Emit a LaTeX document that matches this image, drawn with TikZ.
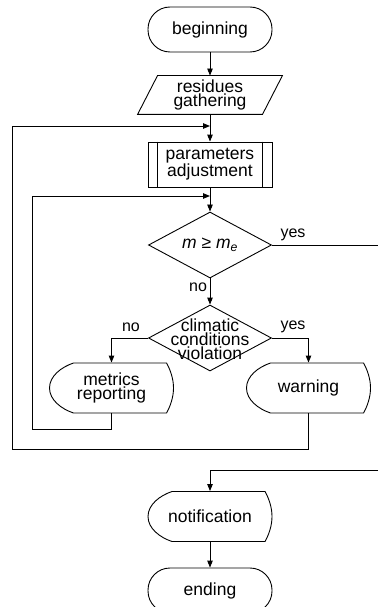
\documentclass[tikz,border=0pt]{standalone}
\usepackage{fontspec}
\setmainfont{Liberation Sans}
\usetikzlibrary{arrows.meta,shapes.geometric,calc}
\newcommand\dispshape[1]{\draw[shift={(#1.center)}] (-38,-25) -- (55,-25)
  .. controls (59,-18) and (62,-9) .. (62,0)
  .. controls (62,9) and (59,18) .. (55,25) -- (-38,25)
  .. controls (-50,21) and (-62,12) .. (-62,0)
  .. controls (-62,-12) and (-50,-21) .. (-38,-25) -- cycle;}
\begin{document}
\begin{tikzpicture}[x=1pt,y=-1pt,line width=0.9pt,
  arr/.style={-{Triangle[length=7pt,width=5.5pt]}},
  txt/.style={font=\fontsize{17.5}{14}\selectfont,align=center,inner sep=0pt},
  tight/.style={font=\fontsize{17.5}{12.5}\selectfont,align=center,inner sep=0pt},
  lab/.style={font=\fontsize{16}{16}\selectfont,inner sep=0pt},
  term/.style={draw,rectangle,rounded corners=22pt,minimum width=124pt,minimum height=45pt},
  boxn/.style={rectangle,minimum width=124pt,minimum height=38pt},
  procn/.style={draw,rectangle,minimum width=124pt,minimum height=45pt},
  dia/.style={draw,diamond,minimum width=123pt,minimum height=66pt,inner sep=0pt},
  disp/.style={rectangle,minimum width=124pt,minimum height=50pt}]
\useasboundingbox (0,0) rectangle (378,607);
% nodes
\node[term,txt] (beg) at (210,29.5) {beginning};
\node[boxn,txt] (res) at (210,95) {residues\\gathering};
\draw ($(res.north west)+(10,0)$) -- ($(res.north east)+(10,0)$) -- ($(res.south east)+(-10,0)$) -- ($(res.south west)+(-10,0)$) -- cycle;
\node[procn,txt] (par) at (210,164.5) {parameters\\adjustment};
\draw ([xshift=10pt]par.north west) -- ([xshift=10pt]par.south west);
\draw ([xshift=-10pt]par.north east) -- ([xshift=-10pt]par.south east);
\node[dia] (d1) at (210,245) {};
\node[txt] (d1t) at (210,245) {\textit{m} ≥ \textit{m}\textsubscript{\textit{e}}};
\node[dia] (d2) at (210,338) {};
\node[tight] (d2t) at (210,339) {climatic\\conditions\\violation};
\node[disp,tight] (met) at (111.5,388) {metrics\\reporting};
\dispshape{met}
\node[disp,txt] (warn) at (308.5,388) {warning};
\dispshape{warn}
\node[disp,txt] (notif) at (210,516.5) {notification};
\dispshape{notif}
\node[term,txt] (end) at (210,590.5) {ending};
% labels
\node[lab] (l1) at (293,235) {yes};
\node[lab] (l2) at (198,287) {no};
\node[lab] (l3) at (131,327) {no};
\node[lab] (l4) at (293,327) {yes};
% coordinates
\coordinate (j1) at (210,126);
\coordinate (j2) at (210,196);
\coordinate (e1) at (378,245);
\coordinate (e2) at (378,470);
% connectors
\draw[arr] (beg) -- (res);
\draw[arr] (res) -- (par);
\draw[arr] (par) -- (d1);
\draw (d1.east) -- (e1);
\draw[arr] (d1.south) -- (d2.north);
\draw[arr] (d2.west) -| (met.north);
\draw[arr] (d2.east) -| (warn.north);
\draw[arr] (met.south) -- ++(0,16) -| (32,196) -- (j2);
\draw[arr] (warn.south) -- ++(0,36) -| (12,126) -- (j1);
\draw[arr] (e2) -| (notif.north);
\draw[arr] (notif) -- (end);
\end{tikzpicture}
\end{document}
